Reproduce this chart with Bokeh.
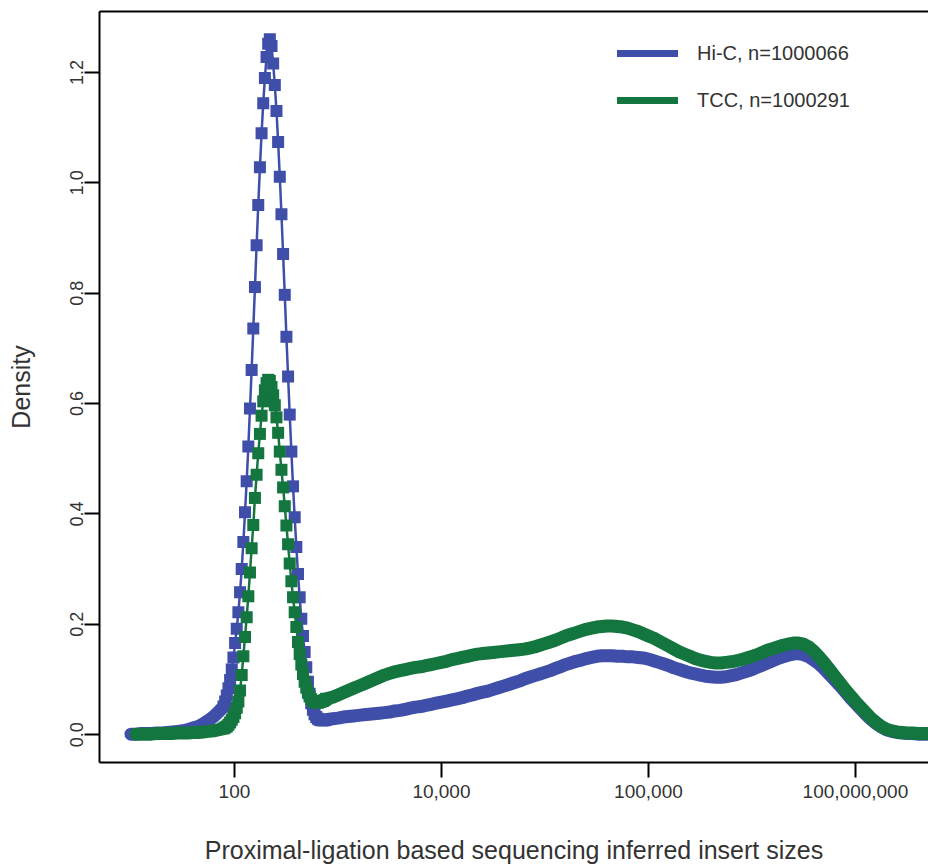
import numpy as np
from bokeh.plotting import figure
from bokeh.models import Range1d, FixedTicker, LinearAxis, Legend, LegendItem, PrintfTickFormatter, ColumnDataSource
from bokeh.embed import file_html
from bokeh.resources import INLINE

# ---- x: log10(insert size) evaluation points of the density estimate ----
grid_lo_hic = np.round(np.arange(1.00, 1.851, 0.05), 3)
grid_lo_tcc = np.round(np.arange(1.05, 1.851, 0.05), 3)
grid_mid = np.round(1.894 + 0.016 * np.arange(63), 3)
grid_hi = np.round(np.arange(2.95, 8.701, 0.05), 3)

# ---- Hi-C density values ----
hic_lo = [0.001, 0.001, 0.002, 0.002, 0.002, 0.003, 0.003, 0.004, 0.005, 0.006,
          0.007, 0.009, 0.012, 0.015, 0.020, 0.026, 0.033, 0.042]
hic_mid = [0.051, 0.060, 0.071, 0.084, 0.099, 0.118, 0.140, 0.166, 0.192, 0.222,
           0.258, 0.300, 0.349, 0.403, 0.459, 0.522, 0.591, 0.661, 0.736, 0.811,
           0.887, 0.960, 1.028, 1.090, 1.144, 1.190, 1.228, 1.252, 1.260, 1.248,
           1.216, 1.177, 1.130, 1.074, 1.011, 0.943, 0.871, 0.797, 0.721, 0.649,
           0.580, 0.513, 0.450, 0.394, 0.340, 0.291, 0.249, 0.210, 0.179, 0.150,
           0.122, 0.096, 0.074, 0.057, 0.045, 0.037, 0.032, 0.029, 0.027, 0.026,
           0.026, 0.026, 0.027]
hic_hi = [0.029, 0.030, 0.032, 0.033, 0.034, 0.035, 0.036, 0.037, 0.038, 0.039,
          0.040, 0.041, 0.043, 0.044, 0.046, 0.048, 0.050, 0.051, 0.053, 0.055,
          0.057, 0.059, 0.061, 0.063, 0.065, 0.067, 0.070, 0.072, 0.075, 0.077,
          0.079, 0.082, 0.085, 0.088, 0.091, 0.094, 0.097, 0.101, 0.104, 0.107,
          0.110, 0.113, 0.116, 0.120, 0.123, 0.127, 0.130, 0.133, 0.135, 0.138,
          0.140, 0.142, 0.143, 0.143, 0.143, 0.142, 0.142, 0.141, 0.141, 0.140,
          0.139, 0.137, 0.134, 0.131, 0.128, 0.125, 0.121, 0.118, 0.115, 0.112,
          0.110, 0.108, 0.106, 0.105, 0.104, 0.104, 0.105, 0.107, 0.109, 0.112,
          0.115, 0.118, 0.122, 0.126, 0.130, 0.134, 0.138, 0.141, 0.144, 0.146,
          0.147, 0.145, 0.141, 0.135, 0.128, 0.119, 0.109, 0.099, 0.089, 0.078,
          0.067, 0.057, 0.047, 0.037, 0.028, 0.020, 0.014, 0.009, 0.006, 0.004,
          0.003, 0.002, 0.002, 0.001, 0.001, 0.001]

# ---- TCC density values ----
tcc_lo = [0.001, 0.001, 0.001, 0.001, 0.002, 0.002, 0.002, 0.002, 0.003, 0.003,
          0.003, 0.004, 0.004, 0.005, 0.006, 0.007, 0.009]
tcc_mid = [0.011, 0.013, 0.015, 0.018, 0.022, 0.027, 0.032, 0.039, 0.049, 0.060,
           0.080, 0.108, 0.142, 0.177, 0.213, 0.251, 0.294, 0.338, 0.380, 0.429,
           0.471, 0.510, 0.545, 0.578, 0.604, 0.624, 0.637, 0.643, 0.641, 0.630,
           0.615, 0.597, 0.575, 0.547, 0.513, 0.480, 0.448, 0.414, 0.379, 0.345,
           0.310, 0.278, 0.249, 0.222, 0.195, 0.168, 0.146, 0.127, 0.110, 0.096,
           0.085, 0.076, 0.069, 0.064, 0.061, 0.059, 0.058, 0.058, 0.059, 0.060,
           0.061, 0.063, 0.065]
tcc_hi = [0.068, 0.072, 0.076, 0.080, 0.084, 0.088, 0.092, 0.096, 0.100, 0.104,
          0.108, 0.111, 0.114, 0.116, 0.118, 0.120, 0.122, 0.123, 0.125, 0.127,
          0.129, 0.131, 0.133, 0.136, 0.138, 0.140, 0.142, 0.144, 0.146, 0.147,
          0.148, 0.149, 0.150, 0.151, 0.152, 0.153, 0.154, 0.155, 0.157, 0.159,
          0.162, 0.165, 0.168, 0.171, 0.175, 0.179, 0.182, 0.185, 0.188, 0.191,
          0.193, 0.195, 0.196, 0.197, 0.197, 0.196, 0.195, 0.193, 0.190, 0.187,
          0.183, 0.179, 0.175, 0.170, 0.165, 0.160, 0.155, 0.150, 0.146, 0.142,
          0.138, 0.135, 0.133, 0.131, 0.130, 0.130, 0.131, 0.132, 0.134, 0.136,
          0.139, 0.142, 0.145, 0.149, 0.153, 0.156, 0.159, 0.162, 0.164, 0.166,
          0.166, 0.164, 0.159, 0.151, 0.141, 0.130, 0.118, 0.106, 0.094, 0.082,
          0.071, 0.060, 0.050, 0.040, 0.030, 0.022, 0.015, 0.010, 0.007, 0.005,
          0.004, 0.003, 0.003, 0.002, 0.002, 0.002]

series_labels = ["Hi-C, n=1000066", "TCC, n=1000291"]
x_tick_pos = [2, 4, 6, 8]
x_tick_labels = ["100", "10,000", "100,000", "100,000,000"]
y_tick_pos = [0.0, 0.2, 0.4, 0.6, 0.8, 1.0, 1.2]

BLUE = "#3F4EA8"
GREEN = "#14763F"
TXT = "#333333"
FONT = "Liberation Sans"

p = figure(width=928, height=866, output_backend="svg", toolbar_location=None,
           x_range=Range1d(0.696, 8.706), y_range=Range1d(-0.0504, 1.3104),
           min_border_left=99, min_border_right=0, min_border_top=11, min_border_bottom=103)
p.outline_line_color = None
p.grid.visible = False
p.background_fill_color = "white"
p.border_fill_color = "white"

for grid_lo, lo, mid, hi, col in ((grid_lo_hic, hic_lo, hic_mid, hic_hi, BLUE),
                                  (grid_lo_tcc, tcc_lo, tcc_mid, tcc_hi, GREEN)):
    # where points are dense they merge into a smooth thick band
    p.line(x=list(grid_lo) + [grid_mid[0]], y=lo + [mid[0]],
           line_color=col, line_width=13, line_join="round", line_cap="round")
    p.line(x=[grid_mid[-1]] + list(grid_hi), y=[mid[-1]] + hi,
           line_color=col, line_width=13, line_join="round", line_cap="round")
    # around the sharp peak the individual square points separate
    p.line(x=list(grid_mid), y=mid, line_color=col, line_width=2.5)
    p.scatter(x=list(grid_mid), y=mid, marker="square", size=12, fill_color=col, line_color=None)

xa = p.xaxis[0]
xa.ticker = FixedTicker(ticks=x_tick_pos)
xa.major_label_overrides = {t: l for t, l in zip(x_tick_pos, x_tick_labels)}
xa.major_label_text_font_size = "19px"
xa.major_label_standoff = 7
xa.axis_label = "Proximal-ligation based sequencing inferred insert sizes"
xa.axis_label_standoff = 35

ya = p.yaxis[0]
ya.ticker = FixedTicker(ticks=y_tick_pos)
ya.formatter = PrintfTickFormatter(format="%.1f")
ya.major_label_orientation = "vertical"
ya.major_label_text_font_size = "18px"
ya.major_label_standoff = 1
ya.axis_label = "Density"
ya.axis_label_standoff = 33

for ax in (xa, ya):
    ax.axis_line_width = 2
    ax.axis_line_color = "black"
    ax.major_tick_line_width = 2
    ax.major_tick_line_color = "black"
    ax.major_tick_out = 15
    ax.major_tick_in = 0
    ax.minor_tick_line_color = None
    ax.major_label_text_font = FONT
    ax.major_label_text_color = TXT
    ax.axis_label_text_font = FONT
    ax.axis_label_text_font_style = "normal"
    ax.axis_label_text_font_size = "25px"
    ax.axis_label_text_color = TXT

top = LinearAxis(ticker=FixedTicker(ticks=[]), axis_line_width=2, axis_line_color="black",
                 major_tick_out=0, major_tick_in=0, minor_tick_out=0, minor_tick_in=0,
                 major_label_standoff=0, major_label_text_font_size="0px")
p.add_layout(top, "above")

leg_hic = p.line(x=[np.nan, np.nan], y=[np.nan, np.nan], line_color=BLUE, line_width=7, line_cap="round")
leg_tcc = p.line(x=[np.nan, np.nan], y=[np.nan, np.nan], line_color=GREEN, line_width=7, line_cap="round")
legend = Legend(items=[LegendItem(label=series_labels[0], renderers=[leg_hic]),
                       LegendItem(label=series_labels[1], renderers=[leg_tcc])],
                location=(518, 647), glyph_width=61, glyph_height=30, label_height=30,
                spacing=17, padding=0, margin=0, label_standoff=19,
                border_line_color=None, background_fill_alpha=0,
                label_text_font=FONT, label_text_font_size="20px", label_text_color=TXT)
p.add_layout(legend)

open("out.html", "w").write(file_html(p, INLINE))
